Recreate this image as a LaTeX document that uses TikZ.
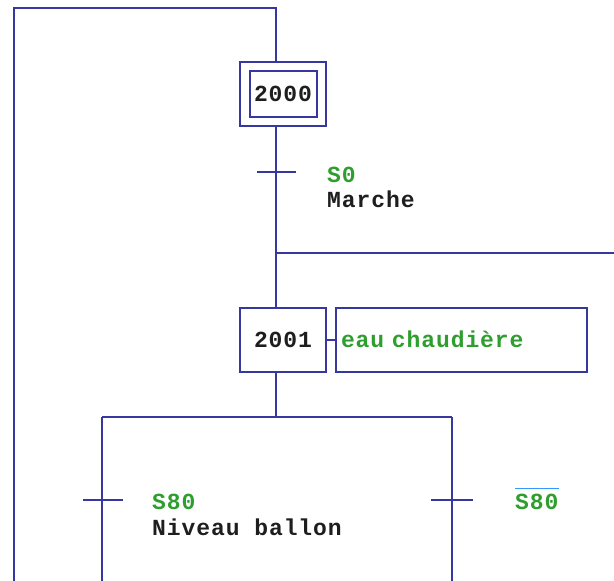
\documentclass[tikz,border=0pt]{standalone}
\usepackage{fontspec}
\setmonofont[LetterSpace=4]{Liberation Mono}
\usetikzlibrary{positioning, calc}
\definecolor{grafblue}{HTML}{3737A0}
\definecolor{condgreen}{HTML}{2E9E2E}
\definecolor{negblue}{HTML}{3399FF}
\definecolor{txtblack}{HTML}{1E1E1E}

\begin{document}
\begin{tikzpicture}[x=1pt, y=-1pt,
  link/.style={draw=grafblue, line width=2pt},
  stepbox/.style={draw=grafblue, line width=2pt, minimum width=86pt, minimum height=64pt, inner sep=0pt},
  stepinner/.style={draw=grafblue, line width=2pt, minimum width=67pt, minimum height=46pt, inner sep=0pt,
    font=\ttfamily\bfseries\fontsize{23}{26}\selectfont, text=txtblack},
  actbox/.style={draw=grafblue, line width=2pt, minimum height=64pt, text width=241pt, inner xsep=5pt,
    align=left, font=\ttfamily\bfseries\fontsize{23}{26}\selectfont, text=condgreen},
  cond/.style={anchor=base west, inner sep=0pt, font=\ttfamily\bfseries\fontsize{23}{26}\selectfont, text=condgreen},
  comment/.style={anchor=base west, inner sep=0pt, font=\ttfamily\bfseries\fontsize{23}{26}\selectfont, text=txtblack}]

\useasboundingbox (0,0) rectangle (614,581);

% Steps
\node[stepbox] (s2000) at (283,93.5) {};
\node[stepinner] (s2000in) at (s2000) {2000};
\node[stepbox, font=\ttfamily\bfseries\fontsize{23}{26}\selectfont, text=txtblack] (s2001) at (283,339.5) {2001};
\node[actbox] (act) at (461.5,339.5) {eau chaudi\`ere};

% Points on the links
\coordinate (loopTop) at (276,8);
\coordinate (loopEnd) at (14,581);
\coordinate (t0) at (276,172);
\coordinate (jump) at (276,253);
\coordinate (jumpEnd) at (614,253);
\coordinate (div) at (276,417);
\coordinate (divL) at (102,417);
\coordinate (divR) at (452,417);
\coordinate (t1) at (102,500);
\coordinate (t2) at (452,500);

% Links
\draw[link] (loopEnd) |- (loopTop) -- (loopTop |- s2000.north);
\draw[link] (t0 |- s2000.south) -- (t0 |- s2001.north);
\draw[link] (jump) -- (jumpEnd);
\draw[link] (s2001.east) -- (act.west);
\draw[link] (div |- s2001.south) -- (div);
\draw[link] (divL) -- (divR);
\draw[link] (divL) -- (divL |- loopEnd);
\draw[link] (divR) -- (divR |- loopEnd);

% Transitions
\draw[link] ($(t0)+(-19,0)$) -- ($(t0)+(20,0)$);
\draw[link] ($(t1)+(-19,0)$) -- ($(t1)+(21,0)$);
\draw[link] ($(t2)+(-21,0)$) -- ($(t2)+(21,0)$);

% Receptivities
\node[cond] (r0) at (327,182) {S0};
\node[comment] (c0) at (327,207) {Marche};
\node[cond] (r1) at (152,509) {S80};
\node[comment] (c1) at (152,535) {Niveau ballon};
\node[cond] (r2) at (515,509) {S80};
\draw[negblue, line width=1.5pt] ($(r2.north west)+(0,-5)$) -- ($(r2.north east)+(0,-5)$);

\end{tikzpicture}
\end{document}
